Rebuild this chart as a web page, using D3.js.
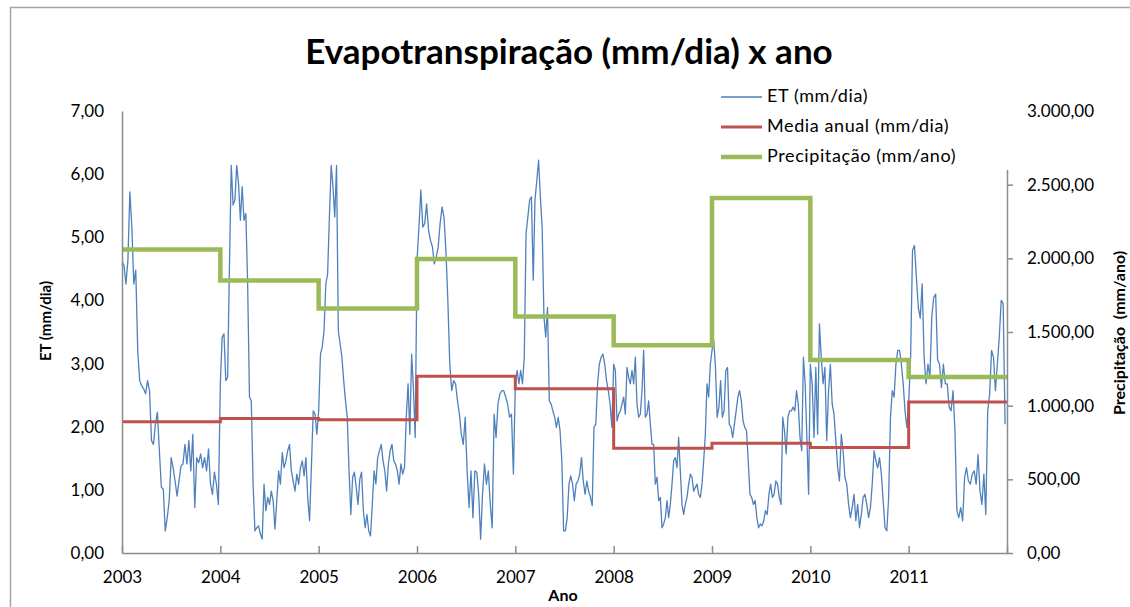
<!DOCTYPE html>
<html>
<head>
<meta charset="utf-8">
<script src="https://cdn.jsdelivr.net/npm/d3@7"></script>
<style>
  html, body { margin: 0; padding: 0; background: #ffffff; }
  svg text { font-family: Lato, "Open Sans", "Liberation Sans", sans-serif; fill: #000; }
</style>
</head>
<body>
<svg id="chart" width="1130" height="607"></svg>
<script>
// ---- Data -------------------------------------------------------------
const years = [2003, 2004, 2005, 2006, 2007, 2008, 2009, 2010, 2011];
const yearTickLabels = ["2003", "2004", "2005", "2006", "2007", "2008", "2009", "2010", "2011"];

// ET (mm/dia): readings spread evenly through each year
const et2003 = [4.61, 4.56, 4.26, 4.63, 5.72, 5.16, 4.26, 4.48, 3.2, 2.73, 2.65, 2.6, 2.52, 2.73, 2.57, 1.78, 1.72, 2.04, 2.23, 1.62, 1.04, 1.01, 0.35, 0.56, 0.83, 1.51, 1.35, 1.14, 0.9, 1.14, 1.38, 1.41, 1.72, 1.41, 1.78, 1.3, 1.88, 0.72, 1.51, 1.43, 1.57, 1.35, 1.51, 1.3, 1.65, 1.09, 0.93, 1.28, 1.09, 0.77];
const et2004 = [2.68, 3.42, 3.47, 2.73, 2.78, 4.53, 6.14, 5.51, 5.59, 6.14, 5.85, 5.27, 5.8, 5.27, 5.38, 4.26, 2.47, 2.41, 1.09, 0.35, 0.4, 0.43, 0.3, 0.22, 1.09, 0.67, 0.88, 0.77, 0.98, 0.83, 0.38, 0.83, 1.3, 1.09, 1.59, 1.35, 1.46, 1.62, 1.72, 1.3, 1.14, 0.98, 1.25, 1.09, 1.35, 1.46, 1.22, 1.51, 0.88, 0.51, 1.35, 2.25, 2.2, 1.88];
const et2005 = [2.25, 3.15, 3.26, 3.52, 4.26, 4.42, 5.32, 6.14, 5.8, 5.32, 6.14, 3.52, 3.31, 3.1, 2.73, 2.41, 2.15, 1.3, 0.61, 1.2, 1.28, 1.04, 0.77, 1.17, 1.28, 0.67, 0.4, 0.61, 0.35, 0.27, 0.77, 1.3, 1.09, 1.51, 1.62, 1.72, 1.46, 1.3, 0.98, 1.41, 1.62, 1.72, 1.46, 1.41, 1.3, 1.09, 1.41, 1.25, 1.35, 2.15, 2.68, 1.88, 3.15, 2.6, 1.83];
const et2006 = [4.63, 5.16, 5.75, 5.16, 5.22, 5.53, 5.11, 4.95, 4.85, 4.58, 4.69, 4.85, 5.22, 5.48, 5.32, 4.79, 4.0, 2.99, 2.57, 2.73, 2.68, 2.41, 2.2, 1.88, 1.72, 2.15, 1.3, 0.72, 1.3, 0.56, 1.3, 1.28, 0.93, 0.22, 0.93, 1.41, 1.09, 1.3, 0.77, 0.4, 2.2, 1.83, 2.36, 2.52, 2.57, 2.57, 2.47, 2.36, 2.15, 2.2, 1.25];
const et2007 = [2.68, 2.89, 2.68, 2.89, 2.68, 3.1, 5.06, 5.32, 5.59, 5.64, 4.32, 5.59, 5.9, 6.22, 5.64, 5.16, 3.74, 3.42, 3.89, 2.41, 2.36, 2.25, 2.15, 1.99, 2.15, 1.94, 1.46, 0.35, 0.35, 0.56, 1.09, 1.22, 1.09, 0.83, 1.09, 1.14, 1.25, 1.51, 1.14, 0.93, 1.14, 0.98, 0.88, 0.75, 1.99, 2.04, 2.68, 2.99, 3.1, 3.15, 2.99, 2.73, 2.57, 2.36, 1.99];
const et2008 = [2.99, 2.89, 2.09, 2.2, 2.25, 2.36, 2.47, 2.2, 2.94, 2.78, 2.68, 2.89, 2.68, 3.1, 2.36, 2.15, 2.2, 2.57, 3.21, 2.15, 2.2, 2.41, 2.04, 1.72, 1.72, 1.09, 1.2, 0.83, 0.88, 0.4, 0.46, 0.56, 0.83, 0.56, 0.77, 1.09, 1.46, 1.51, 1.35, 1.83, 1.3, 0.77, 0.61, 0.77, 0.88, 1.09, 1.25, 1.2, 0.98, 1.04, 1.09, 0.93, 0.88, 1.09, 1.46, 1.88, 2.68, 2.47, 2.99];
const et2009 = [3.21, 3.37, 2.94, 2.15, 2.31, 2.73, 2.15, 2.25, 2.89, 2.94, 2.04, 1.99, 1.83, 2.04, 2.25, 2.47, 2.57, 2.41, 2.09, 1.99, 1.94, 1.46, 0.93, 0.88, 0.77, 0.83, 0.56, 0.4, 0.46, 0.43, 0.51, 0.67, 0.61, 0.93, 1.09, 0.88, 0.93, 1.14, 1.09, 0.88, 0.77, 2.15, 1.94, 1.57, 2.15, 2.25, 2.25, 2.31, 2.25, 2.57, 2.36, 1.83, 1.62, 3.1, 2.68, 1.83, 0.93];
const et2010 = [2.99, 2.68, 1.83, 2.94, 1.88, 3.63, 3.1, 2.68, 2.94, 1.78, 2.57, 2.99, 2.36, 2.2, 1.78, 1.35, 1.14, 1.88, 1.62, 1.2, 1.09, 0.77, 0.56, 0.72, 0.93, 0.51, 0.77, 0.4, 0.61, 0.88, 0.93, 0.77, 0.56, 0.72, 1.09, 1.62, 1.46, 1.35, 1.51, 1.25, 0.83, 0.4, 0.35, 0.88, 2.15, 2.57, 2.47, 2.99, 3.21, 3.21, 2.99, 2.68, 2.25, 1.99];
const et2011 = [2.36, 3.1, 4.79, 4.87, 4.37, 3.89, 3.72, 4.26, 3.1, 2.68, 2.99, 2.78, 3.74, 4.05, 4.1, 3.06, 2.99, 2.62, 2.99, 2.68, 2.68, 2.31, 2.25, 2.57, 1.94, 0.67, 0.56, 0.72, 0.51, 1.2, 1.35, 1.14, 1.09, 1.25, 1.3, 1.09, 1.56, 0.98, 0.77, 1.25, 0.61, 2.25, 2.52, 3.21, 3.1, 2.57, 2.99, 3.42, 4.0, 3.95, 2.04];
const etByYear = [et2003, et2004, et2005, et2006, et2007, et2008, et2009, et2010, et2011];

// Annual mean ET (mm/dia) and annual precipitation (mm/ano)
const mediaAnual = [2.08, 2.13, 2.11, 2.80, 2.60, 1.66, 1.74, 1.67, 2.39];
const precipitacao = [2060, 1850, 1660, 1995, 1605, 1410, 2410, 1310, 1195];

const leftTicks = [0, 1, 2, 3, 4, 5, 6, 7];
const rightTicks = [0, 500, 1000, 1500, 2000, 2500, 3000];

// ---- Layout -----------------------------------------------------------
const svg = d3.select("#chart");
const plot = { left: 122, right: 1007, top: 111, bottom: 553 };

const x = d3.scaleLinear().domain([2003, 2012]).range([plot.left, plot.right]);
const yL = d3.scaleLinear().domain([0, 7]).range([plot.bottom, plot.top]);
const yR = d3.scaleLinear().domain([0, 3000]).range([plot.bottom, plot.top]);

const fmt2 = v => v.toFixed(2).replace(".", ",");
const fmtThousands = v => {
  const [i, d] = v.toFixed(2).split(".");
  return i.replace(/\B(?=(\d{3})+(?!\d))/g, ".") + "," + d;
};

// chart frame
svg.append("rect")
  .attr("x", 10.5).attr("y", 7.5)
  .attr("width", 1300).attr("height", 800)
  .attr("fill", "#fff").attr("stroke", "#a6a6a6").attr("stroke-width", 1.5);

// title
svg.append("text")
  .attr("x", 569).attr("y", 64)
  .attr("text-anchor", "middle")
  .style("font-size", "35px").style("font-weight", "700")
  .text("Evapotranspiração (mm/dia) x ano");

// ---- Series -----------------------------------------------------------
const etPoints = [];
etByYear.forEach((vals, k) => {
  vals.forEach((v, i) => etPoints.push({ t: years[k] + i / vals.length, v }));
});

const gSeries = svg.append("g");

gSeries.append("path")
  .datum(etPoints)
  .attr("fill", "none")
  .attr("stroke", "#4F81BD")
  .attr("stroke-width", 1.3)
  .attr("stroke-linejoin", "round")
  .attr("d", d3.line().x(d => x(d.t)).y(d => yL(d.v)));

const stepData = arr => {
  const pts = arr.map((v, k) => ({ t: years[k], v }));
  pts.push({ t: years[years.length - 1] + 1, v: arr[arr.length - 1] });
  return pts;
};

gSeries.append("path")
  .datum(stepData(mediaAnual))
  .attr("fill", "none")
  .attr("stroke", "#C0504D")
  .attr("stroke-width", 3)
  .attr("d", d3.line().curve(d3.curveStepAfter).x(d => x(d.t)).y(d => yL(d.v)));

gSeries.append("path")
  .datum(stepData(precipitacao))
  .attr("fill", "none")
  .attr("stroke", "#9BBB59")
  .attr("stroke-width", 4.5)
  .attr("d", d3.line().curve(d3.curveStepAfter).x(d => x(d.t)).y(d => yR(d.v)));

// ---- Axes -------------------------------------------------------------
const axisColor = "#8c8c8c";

// left axis
const gL = svg.append("g").attr("transform", `translate(${plot.left},0)`)
  .call(d3.axisLeft(yL).tickValues(leftTicks).tickSize(0).tickPadding(18).tickFormat(fmt2));
gL.select(".domain").attr("stroke", axisColor).attr("stroke-width", 1.5);
gL.selectAll("text").style("font-size", "17px").style("font-family", "Lato, sans-serif");

// bottom axis (ticks pointing inward)
const gB = svg.append("g").attr("transform", `translate(0,${plot.bottom})`)
  .call(d3.axisBottom(x).tickValues(years.concat([2012])).tickSizeInner(-7).tickSizeOuter(0).tickPadding(18)
    .tickFormat((d, i) => yearTickLabels[i] || ""));
gB.select(".domain").attr("stroke", axisColor).attr("stroke-width", 1.5);
gB.selectAll("line").attr("stroke", axisColor).attr("stroke-width", 1.5);
gB.selectAll("text").style("font-size", "17px").style("font-family", "Lato, sans-serif");

// right axis
const gR = svg.append("g").attr("transform", `translate(${plot.right},0)`)
  .call(d3.axisRight(yR).tickValues(rightTicks).tickSizeInner(6).tickSizeOuter(0).tickPadding(14).tickFormat(fmtThousands));
gR.select(".domain").attr("stroke", axisColor).attr("stroke-width", 1.5);
gR.selectAll("line").attr("stroke", axisColor).attr("stroke-width", 1.5);
gR.selectAll("text").style("font-size", "17px").style("font-family", "Lato, sans-serif");

// axis titles
svg.append("text")
  .attr("transform", "translate(47,321) rotate(-90)")
  .attr("text-anchor", "middle").attr("dominant-baseline", "middle")
  .style("font-size", "15px").style("font-weight", "700")
  .text("ET (mm/dia)");

svg.append("text")
  .attr("transform", "translate(1121,333) rotate(-90)")
  .attr("text-anchor", "middle").attr("dominant-baseline", "middle")
  .style("font-size", "16px").style("font-weight", "700")
  .attr("xml:space", "preserve")
  .text("Precipitação  (mm/ano)");

svg.append("text")
  .attr("x", 563).attr("y", 597)
  .attr("text-anchor", "middle").attr("dominant-baseline", "middle")
  .style("font-size", "16px").style("font-weight", "700")
  .text("Ano");

// ---- Legend -----------------------------------------------------------
const legendItems = [
  { label: "ET (mm/dia)", color: "#4F81BD", width: 1.6 },
  { label: "Media anual (mm/dia)", color: "#C0504D", width: 3 },
  { label: "Precipitação (mm/ano)", color: "#9BBB59", width: 4.5 }
];
const gLeg = svg.append("g");
gLeg.append("rect")
  .attr("x", 712).attr("y", 82).attr("width", 302).attr("height", 88)
  .attr("fill", "#fff");
legendItems.forEach((it, i) => {
  const cy = 97 + i * 30;
  gLeg.append("line")
    .attr("x1", 721).attr("x2", 762).attr("y1", cy).attr("y2", cy)
    .attr("stroke", it.color).attr("stroke-width", it.width);
  gLeg.append("text")
    .attr("x", 767).attr("y", cy)
    .attr("dominant-baseline", "middle")
    .style("font-size", "18px")
    .style("letter-spacing", "0.6px")
    .text(it.label);
});
</script>
</body>
</html>
